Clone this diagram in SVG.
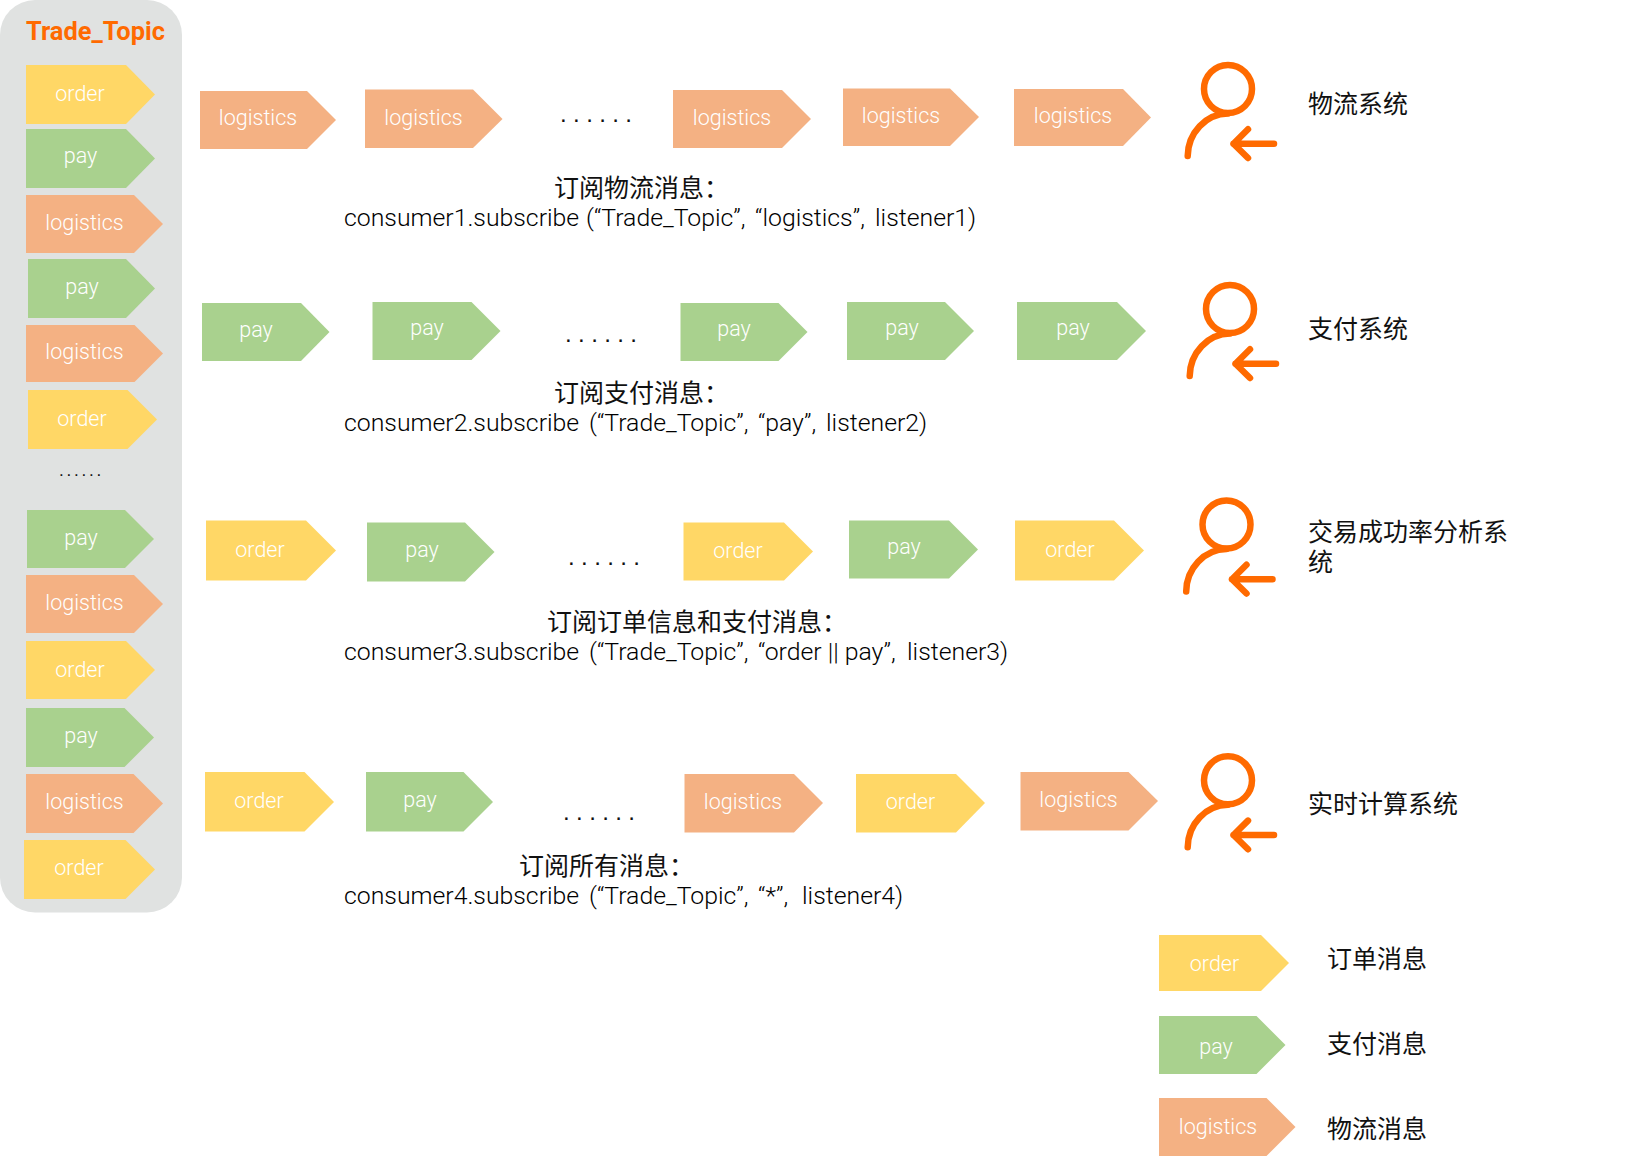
<svg xmlns="http://www.w3.org/2000/svg" width="1628" height="1160" viewBox="0 0 1628 1160">
<style>
.order{fill:#FFD766}.pay{fill:#A9D18E}.logistics{fill:#F4B183}
.l{font-family:"Roboto","Liberation Sans",sans-serif;font-weight:300;font-size:21.5px;fill:#fff;text-anchor:middle}
.code{font-family:"Roboto","Liberation Sans",sans-serif;font-weight:300;font-size:24.8px;fill:#000}
.cjk{font-family:"Noto Sans CJK SC",sans-serif;font-size:25px;fill:#111}
.dots{font-family:"Liberation Sans",sans-serif;font-size:24px;letter-spacing:6.4px;fill:#111}
.ic{fill:none;stroke:#FF6A00;stroke-width:6.5;stroke-linecap:round;stroke-linejoin:round}
</style>
<defs>
<g id="person" class="ic"><circle cx="1228" cy="89" r="24"/><path d="M1187.7 156A41 43 0 0 1 1228 113.500"/><path d="M1274 143.700H1233.500M1248 129.300L1233.500 143.700L1248 158"/></g>
</defs>
<g id="topic">
<rect x="0" y="0" width="182" height="912.500" rx="35" fill="#E0E2E1"/>
<text x="26" y="39.500" textLength="139" lengthAdjust="spacingAndGlyphs" style="font-family:Roboto,'Liberation Sans',sans-serif;font-weight:700;font-size:25px;fill:#FF6A00">Trade_Topic</text>
</g>
<g id="connectors"/>
<g id="queue">
<g id="q1"><polygon class="order" points="26,65 126,65 155,94.500 126,124 26,124"/><text class="l" x="80" y="101">order</text></g>
<g id="q2"><polygon class="pay" points="26,129 126,129 155,158.500 126,188 26,188"/><text class="l" x="80.500" y="163">pay</text></g>
<g id="q3"><polygon class="logistics" points="26,195 134,195 163,224 134,253 26,253"/><text class="l" x="84.500" y="230">logistics</text></g>
<g id="q4"><polygon class="pay" points="28,259 126,259 155,288.500 126,318 28,318"/><text class="l" x="82" y="294">pay</text></g>
<g id="q5"><polygon class="logistics" points="26,325 134.500,325 163,353.500 134.500,382 26,382"/><text class="l" x="84.500" y="359">logistics</text></g>
<g id="q6"><polygon class="order" points="28,390 127.500,390 157,419.500 127.500,449 28,449"/><text class="l" x="82" y="426">order</text></g>
<text class="dots" x="59" y="476" style="font-size:17px;letter-spacing:2.8px">......</text>
<g id="q7"><polygon class="pay" points="27,510 125,510 154,539 125,568 27,568"/><text class="l" x="81" y="545">pay</text></g>
<g id="q8"><polygon class="logistics" points="26,575 134,575 163,604 134,633 26,633"/><text class="l" x="84.500" y="609.500">logistics</text></g>
<g id="q9"><polygon class="order" points="26,641 126,641 155,670 126,699 26,699"/><text class="l" x="80" y="677">order</text></g>
<g id="q10"><polygon class="pay" points="26,708 124.500,708 154,737.500 124.500,767 26,767"/><text class="l" x="81" y="743">pay</text></g>
<g id="q11"><polygon class="logistics" points="26,774 133.500,774 163,803.500 133.500,833 26,833"/><text class="l" x="84.500" y="809">logistics</text></g>
<g id="q12"><polygon class="order" points="24,840 125.500,840 155,869.500 125.500,899 24,899"/><text class="l" x="79" y="875">order</text></g>
</g>
<g id="row1">
<g id="r1a"><polygon class="logistics" points="200,91 307,91 336,120 307,149 200,149"/><text class="l" x="258" y="125">logistics</text></g>
<g id="r1b"><polygon class="logistics" points="365,89.500 473,89.500 502.500,119 473,148 365,148"/><text class="l" x="423.500" y="125">logistics</text></g>
<g id="r1c"><polygon class="logistics" points="673,90 782,90 811,119 782,148 673,148"/><text class="l" x="732" y="125">logistics</text></g>
<g id="r1d"><polygon class="logistics" points="843,88.500 950,88.500 979,117 950,146 843,146"/><text class="l" x="901" y="122.500">logistics</text></g>
<g id="r1e"><polygon class="logistics" points="1014,89 1123,89 1151,117.500 1123,146 1014,146"/><text class="l" x="1073" y="122.500">logistics</text></g>
<text class="dots" x="560" y="122">......</text>
<text class="cjk" x="554" y="197">订阅物流消息：</text>
<text class="code" y="226"><tspan x="344">consumer1.subscribe</tspan> <tspan x="586">(“Trade_Topic”,</tspan> <tspan x="755">“logistics”,</tspan> <tspan x="875">listener1)</tspan></text>
<use id="consumer1" href="#person"/>
<text class="cjk" x="1308" y="113">物流系统</text>
</g>
<g id="row2">
<g id="r2a"><polygon class="pay" points="202,303 301,303 329.500,332 301,361 202,361"/><text class="l" x="256" y="337">pay</text></g>
<g id="r2b"><polygon class="pay" points="372.500,302 471.500,302 500.500,331 471.500,360 372.500,360"/><text class="l" x="427" y="335">pay</text></g>
<g id="r2c"><polygon class="pay" points="680.500,303 778.500,303 807.500,332 778.500,361 680.500,361"/><text class="l" x="734" y="336">pay</text></g>
<g id="r2d"><polygon class="pay" points="847,302 945,302 974,331 945,360 847,360"/><text class="l" x="902" y="335">pay</text></g>
<g id="r2e"><polygon class="pay" points="1017,302 1117,302 1146,331 1117,360 1017,360"/><text class="l" x="1073" y="335">pay</text></g>
<text class="dots" x="565" y="342">......</text>
<text class="cjk" x="554" y="402">订阅支付消息：</text>
<text class="code" y="431"><tspan x="344">consumer2.subscribe</tspan> <tspan x="589">(“Trade_Topic”,</tspan> <tspan x="758">“pay”,</tspan> <tspan x="826">listener2)</tspan></text>
<use id="consumer2" href="#person" transform="translate(2 220)"/>
<text class="cjk" x="1308" y="338">支付系统</text>
</g>
<g id="row3">
<g id="r3a"><polygon class="order" points="206,520.500 306,520.500 336,550.500 306,580.500 206,580.500"/><text class="l" x="260" y="556.500">order</text></g>
<g id="r3b"><polygon class="pay" points="367,522.500 465,522.500 494.500,552 465,581.500 367,581.500"/><text class="l" x="422" y="556.500">pay</text></g>
<g id="r3c"><polygon class="order" points="683.500,522.500 784,522.500 813,551.500 784,580.500 683.500,580.500"/><text class="l" x="738" y="557.500">order</text></g>
<g id="r3d"><polygon class="pay" points="849,520.500 949,520.500 978,549.500 949,578.500 849,578.500"/><text class="l" x="904" y="554">pay</text></g>
<g id="r3e"><polygon class="order" points="1015,520.500 1114,520.500 1144,550.500 1114,580.500 1015,580.500"/><text class="l" x="1070" y="556.500">order</text></g>
<text class="dots" x="568" y="565">......</text>
<text class="cjk" x="547" y="631">订阅订单信息和支付消息：</text>
<text class="code" y="660"><tspan x="344">consumer3.subscribe</tspan> <tspan x="589">(“Trade_Topic”,</tspan> <tspan x="758">“order || pay”,</tspan> <tspan x="907">listener3)</tspan></text>
<use id="consumer3" href="#person" transform="translate(-1.500 435.500)"/>
<text class="cjk"><tspan x="1308" y="541">交易成功率分析系</tspan><tspan x="1308" y="571">统</tspan></text>
</g>
<g id="row4">
<g id="r4a"><polygon class="order" points="205,772 304.500,772 334,802 304.500,831.500 205,831.500"/><text class="l" x="259" y="808">order</text></g>
<g id="r4b"><polygon class="pay" points="366,772 463.500,772 493,802 463.500,831.500 366,831.500"/><text class="l" x="420" y="807">pay</text></g>
<g id="r4c"><polygon class="logistics" points="684.500,774 794,774 823,803 794,832.500 684.500,832.500"/><text class="l" x="743" y="809">logistics</text></g>
<g id="r4d"><polygon class="order" points="856,774 956,774 985,803 956,832.500 856,832.500"/><text class="l" x="910.500" y="809">order</text></g>
<g id="r4e"><polygon class="logistics" points="1020.500,772 1128.500,772 1158,801 1128.500,830.500 1020.500,830.500"/><text class="l" x="1078.500" y="807">logistics</text></g>
<text class="dots" x="563" y="820">......</text>
<text class="cjk" x="519" y="875">订阅所有消息：</text>
<text class="code" y="903.500"><tspan x="344">consumer4.subscribe</tspan> <tspan x="589">(“Trade_Topic”,</tspan> <tspan x="758">“*”,</tspan> <tspan x="802">listener4)</tspan></text>
<use id="consumer4" href="#person" transform="translate(0 691.300)"/>
<text class="cjk" x="1308" y="813">实时计算系统</text>
</g>
<g id="legend">
<g id="legend-order"><polygon class="order" points="1159,935 1261,935 1289,963 1261,991 1159,991"/><text class="l" x="1214.500" y="971">order</text><text class="cjk" x="1327" y="968">订单消息</text></g>
<g id="legend-pay"><polygon class="pay" points="1159,1016 1256.500,1016 1285.500,1045 1256.500,1074 1159,1074"/><text class="l" x="1216" y="1054">pay</text><text class="cjk" x="1327" y="1053">支付消息</text></g>
<g id="legend-logistics"><polygon class="logistics" points="1159,1098 1266.500,1098 1295.500,1127 1266.500,1156 1159,1156"/><text class="l" x="1218" y="1134">logistics</text><text class="cjk" x="1327" y="1138">物流消息</text></g>
</g>
</svg>
